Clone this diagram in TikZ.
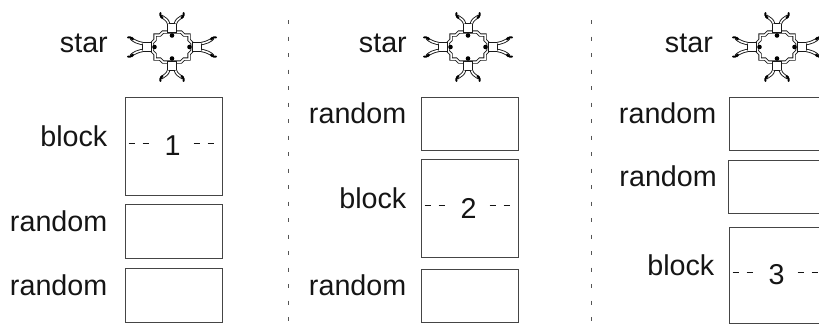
\documentclass[tikz,border=0pt]{standalone}
\usepackage{fontspec}
\setmainfont{Liberation Sans}
\usetikzlibrary{positioning}
\definecolor{ink}{HTML}{151515}
\definecolor{edge}{HTML}{454545}
\definecolor{sepgray}{HTML}{555555}

\tikzset{
  pics/starmol/.style={code={
    % ring
    \draw[black!90, line width=0.9pt, double=white, double distance=1.5pt]
      (-9,-15) -- (9,-15) -- (12,-12) -- (17,-12) -- (17,-7) -- (20,-4) -- (20,4)
      -- (17,7) -- (17,12) -- (12,12) -- (9,15) -- (-9,15) -- (-12,12) -- (-17,12)
      -- (-17,7) -- (-20,4) -- (-20,-4) -- (-17,-7) -- (-17,-12) -- (-12,-12) -- cycle;
    % arms
    \foreach \a/\d/\l/\w in {0/25/15/10,90/19/11/12,180/25/15/10,270/19/11/12} {
      \begin{scope}[rotate=\a]
        \draw[black!90, line width=0.9pt, fill=white] (\d-4.5,-4.5) rectangle (\d+4.5,4.5);
        \fill[black] (\d-7.5,0) circle (2.3);
        \foreach \s in {1,-1} {
          \begin{scope}[yscale=\s]
            \draw[black!90, line width=0.9pt, double=white, double distance=1.5pt]
              (\d+4.5,3.5) .. controls (\d+8,4) and (\d+\l-1,\w-4) .. (\d+\l+1,\w-1);
            \draw[black, line width=2pt, line cap=round]
              (\d+\l-1,\w-2.5) .. controls (\d+\l+2,\w) .. (\d+\l+4,\w-0.5);
          \end{scope}
        }
      \end{scope}
    }
  }}
}

\begin{document}
\begin{tikzpicture}[x=1pt, y=-1pt,
  randbox/.style={draw=edge, line width=1pt, minimum width=97pt, minimum height=54pt, inner sep=0pt},
  blockbox/.style={draw=edge, line width=1pt, minimum width=97pt, minimum height=98pt, inner sep=0pt},
  lbl/.style={text=ink, inner sep=0pt, font=\fontsize{28.7pt}{34pt}\selectfont},
  num/.style={text=ink, inner sep=0pt, font=\fontsize{28.7pt}{34pt}\selectfont},
  tick/.style={draw=ink, line width=0.9pt, dash pattern=on 6pt off 8pt},
  sep/.style={draw=sepgray, line width=0.8pt, dash pattern=on 4pt off 12.5pt}]

  \useasboundingbox (0,0) rectangle (819,324);
  \clip (0,0) rectangle (819,324);

  % column 1
  \coordinate (s1) at (172,47);
  \pic at (s1) {starmol};
  \node[lbl, anchor=base east] (st1) at ([xshift=-64pt,yshift=-5pt]s1) {star};
  \node[blockbox] (b1) at (173.5,146) {};
  \node[randbox] (r1a) at (173.5,231) {};
  \node[randbox] (r1b) at (173.5,295) {};
  \node[lbl, anchor=base east] (lb1) at ([xshift=-17pt]b1.west) {block};
  \node[lbl, anchor=base east] (lr1a) at ([xshift=-17pt]r1a.west) {random};
  \node[lbl, anchor=base east] (lr1b) at ([xshift=-17pt]r1b.west) {random};
  \node[num] (n1) at ([xshift=-1pt]b1.center) {1};
  \draw[tick] ([xshift=-44pt,yshift=3pt]n1.center) -- ([xshift=-24pt,yshift=3pt]n1.center);
  \draw[tick] ([xshift=21pt,yshift=3pt]n1.center) -- ([xshift=41pt,yshift=3pt]n1.center);

  \coordinate (d1a) at (288,20);
  \coordinate (d1b) at (288,324);
  \draw[sep] (d1a) -- (d1b);

  % column 2
  \coordinate (s2) at (468,47);
  \pic at (s2) {starmol};
  \node[lbl, anchor=base east] (st2) at ([xshift=-61pt,yshift=-5pt]s2) {star};
  \node[randbox, minimum height=53pt] (r2a) at (469.5,123.5) {};
  \node[blockbox] (b2) at (469.5,208) {};
  \node[randbox, minimum height=53pt] (r2b) at (469.5,295.5) {};
  \node[lbl, anchor=base east] (lr2a) at ([xshift=-14pt]r2a.west) {random};
  \node[lbl, anchor=base east] (lb2) at ([xshift=-14pt]b2.west) {block};
  \node[lbl, anchor=base east] (lr2b) at ([xshift=-14pt]r2b.west) {random};
  \node[num] (n2) at ([xshift=-1pt]b2.center) {2};
  \draw[tick] ([xshift=-44pt,yshift=3pt]n2.center) -- ([xshift=-24pt,yshift=3pt]n2.center);
  \draw[tick] ([xshift=21pt,yshift=3pt]n2.center) -- ([xshift=41pt,yshift=3pt]n2.center);

  \coordinate (d2a) at (591,20);
  \coordinate (d2b) at (591,324);
  \draw[sep] (d2a) -- (d2b);

  % column 3
  \coordinate (s3) at (777,47);
  \pic at (s3) {starmol};
  \node[lbl, anchor=base east] (st3) at ([xshift=-64pt,yshift=-5pt]s3) {star};
  \node[randbox, minimum height=53pt] (r3a) at (777.5,123.5) {};
  \node[randbox, minimum height=53pt] (r3b) at (777,186.5) {};
  \node[blockbox, minimum height=96pt] (b3) at (777.5,275) {};
  \node[lbl, anchor=base east] (lr3a) at ([xshift=-12pt]r3a.west) {random};
  \node[lbl, anchor=base east] (lr3b) at ([xshift=-11pt]r3b.west) {random};
  \node[lbl, anchor=base east] (lb3) at ([xshift=-14pt]b3.west) {block};
  \node[num] (n3) at ([xshift=-1pt]b3.center) {3};
  \draw[tick] ([xshift=-44pt,yshift=3pt]n3.center) -- ([xshift=-24pt,yshift=3pt]n3.center);
  \draw[tick] ([xshift=21pt,yshift=3pt]n3.center) -- ([xshift=41pt,yshift=3pt]n3.center);

\end{tikzpicture}
\end{document}
